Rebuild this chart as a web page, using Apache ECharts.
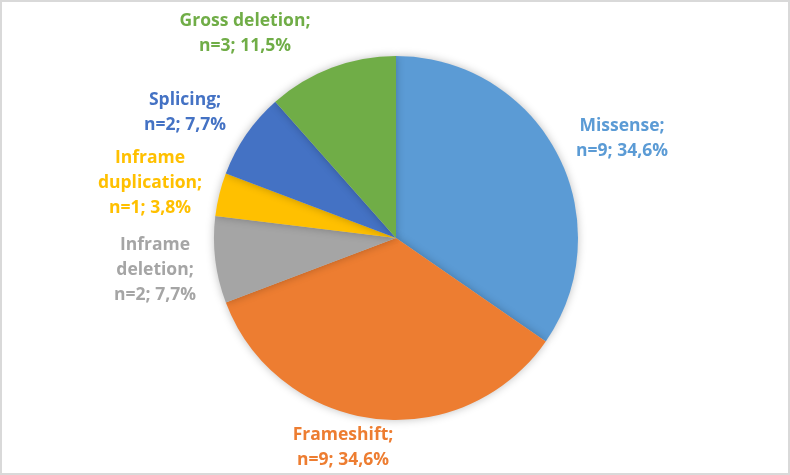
<!DOCTYPE html>
<html>
<head>
<meta charset="utf-8">
<script src="https://cdn.jsdelivr.net/npm/echarts@6/dist/echarts.min.js"></script>
<style>
  html, body { margin: 0; padding: 0; background: #fff; }
  #chart { width: 786px; height: 471px; border: 2px solid #d9d9d9; }
</style>
</head>
<body>
<div id="chart"></div>
<script>
// variant types, clockwise from 12 o'clock
const categories = ["Missense", "Frameshift", "Inframe deletion", "Inframe duplication", "Splicing", "Gross deletion"];
const counts = [9, 9, 2, 1, 2, 3];
const colors = ["#5B9BD5", "#ED7D31", "#A5A5A5", "#FFC000", "#4472C4", "#70AD47"];
// label centres (px, inside the chart div)
const labelPos = [[620, 137], [341, 446], [153, 268], [148, 181], [183, 111], [243, 32]];

const chart = echarts.init(document.getElementById("chart"));
const total = counts.reduce((a, b) => a + b, 0);

const option = {
  animation: false,
  series: [
    {
      type: "pie",
      center: [394, 236],
      radius: 182,
      startAngle: 90,
      clockwise: true,
      data: categories.map((c, i) => ({
        name: c,
        value: counts[i],
        itemStyle: { color: colors[i] },
        label: { color: colors[i] }
      })),
      itemStyle: {
        borderWidth: 0,
        shadowBlur: 8,
        shadowColor: "rgba(0,0,0,0.25)"
      },
      label: {
        show: true,
        position: "outside",
        fontFamily: "Open Sans",
        fontWeight: "bold",
        fontSize: 17.5,
        lineHeight: 25,
        align: "center",
        formatter: (p) => {
          const name = p.name.replace("Inframe ", "Inframe\n");
          const pct = (p.value / total * 100).toFixed(1).replace(".", ",");
          return name + ";\nn=" + p.value + "; " + pct + "%";
        }
      },
      labelLine: { show: false },
      labelLayout: (params) => ({
        x: labelPos[params.dataIndex][0],
        y: labelPos[params.dataIndex][1],
        align: "center",
        verticalAlign: "middle",
        hideOverlap: false
      })
    }
  ]
};
chart.setOption(option);
window.addEventListener("resize", () => {
  chart && chart.resize();
});
</script>
</body>
</html>
